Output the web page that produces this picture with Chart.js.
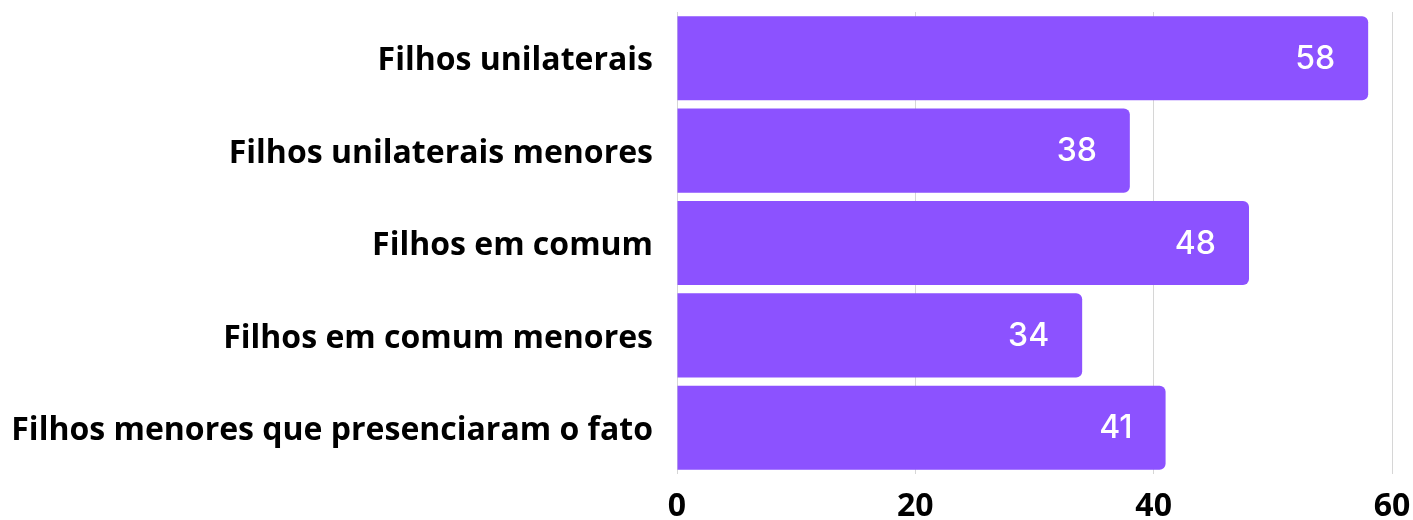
<!DOCTYPE html>
<html>
<head>
<meta charset="utf-8">
<script src="https://cdn.jsdelivr.net/npm/chart.js@4/dist/chart.umd.min.js"></script>
<style>
  html, body { margin: 0; padding: 0; background: #fff; }
  #wrap { width: 1413px; height: 520px; position: relative; }
</style>
</head>
<body>
<div id="wrap"><canvas id="chart"></canvas></div>
<script>
// ================= DATA =================
const categorias = [
  "Filhos unilaterais",
  "Filhos unilaterais menores",
  "Filhos em comum",
  "Filhos em comum menores",
  "Filhos menores que presenciaram o fato",
];
const valores = [58, 38, 48, 34, 41];
const ticksX = [0, 20, 40, 60];

// ================= LABEL NA PONTA DA BARRA =================
const valueLabels = {
  id: "valueLabels",
  afterDatasetsDraw(chart) {
    const ctx = chart.ctx;
    const meta = chart.getDatasetMeta(0);
    ctx.save();
    ctx.fillStyle = "#ffffff";
    ctx.font = "500 32px Inter";
    ctx.textAlign = "right";
    ctx.textBaseline = "middle";
    meta.data.forEach((bar, i) => {
      ctx.fillText(String(valores[i]), bar.x - 33, bar.y + 1);
    });
    ctx.restore();
  },
};

new Chart(document.getElementById("chart"), {
  type: "bar",
  data: {
    labels: categorias,
    datasets: [
      {
        data: valores,
        backgroundColor: "#8c52ff",
        borderRadius: 6,
        borderSkipped: "start",
        categoryPercentage: 1,
        barPercentage: 0.91,
      },
    ],
  },
  options: {
    indexAxis: "y",
    responsive: true,
    maintainAspectRatio: false,
    animation: false,
    layout: { padding: { top: 12, bottom: 0, left: 0, right: 0 } },
    plugins: { legend: { display: false }, tooltip: { enabled: false } },
    scales: {
      x: {
        min: 0,
        max: 60,
        afterBuildTicks: (s) => {
          s.ticks = ticksX.map((v) => ({ value: v }));
        },
        afterFit: (s) => {
          s.height = 46;
          s.paddingLeft = 0;
          s.paddingRight = 21;
        },
        grid: { color: "#d6d6d6", lineWidth: 1, drawTicks: false },
        border: { display: false },
        ticks: {
          color: "#000",
          padding: 14,
          font: { family: "'Open Sans'", weight: "bold", size: 32 },
        },
      },
      y: {
        afterFit: (s) => {
          s.width = 677;
          s.paddingTop = 0;
          s.paddingBottom = 0;
        },
        grid: { display: false },
        border: { display: false },
        ticks: {
          color: "#000",
          padding: 16,
          labelOffset: 3,
          font: { family: "'Open Sans'", weight: "bold", size: 32 },
        },
      },
    },
  },
  plugins: [valueLabels],
});
</script>
</body>
</html>
